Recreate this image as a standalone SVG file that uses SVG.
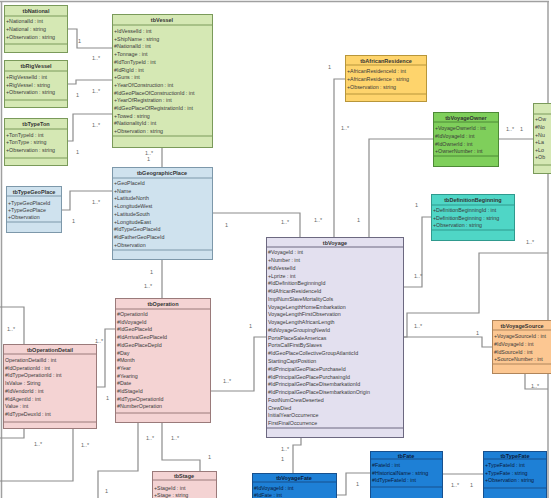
<svg xmlns="http://www.w3.org/2000/svg" width="551" height="498" viewBox="0 0 551 498">
<style>
.h{font-family:"Liberation Sans",Arial,sans-serif;font-size:5.5px;font-weight:bold;fill:#333;text-anchor:middle}
.a{font-family:"Liberation Sans",Arial,sans-serif;font-size:5.3px;fill:#3a3a3a}
.l{font-family:"Liberation Sans",Arial,sans-serif;font-size:5.5px;fill:#666}
.c{fill:none;stroke:#8c8c8c;stroke-width:1.2}
.fr{fill:none;stroke:#a0a0a0;stroke-width:1.5}
.g rect,.g line{stroke:#7a9a5a}
.g rect{fill:#d5e8b4}
.b rect,.b line{stroke:#7d98aa}
.b rect{fill:#cfe2ee}
.v rect,.v line{stroke:#6c6880}
.v rect{fill:#e3e0ef}
.p rect,.p line{stroke:#9a7a7a}
.p rect{fill:#f4d3d3}
.y rect,.y line{stroke:#b8963a}
.y rect{fill:#fed46c}
.gg rect,.gg line{stroke:#4d8a36}
.gg rect{fill:#7fcf5b}
.t rect,.t line{stroke:#2f9a8e}
.t rect{fill:#4fd6c6}
.o rect,.o line{stroke:#b0855a}
.o rect{fill:#fcc792}
.bl rect,.bl line{stroke:#17508e}
.bl rect{fill:#1e80d6}
.bl text{fill:#0a1a3a}
rect,line{stroke-width:1}
</style>
<rect width="551" height="498" fill="#ffffff"/>
<g id="frame">
<line class="fr" x1="0" y1="1.5" x2="549" y2="1.5"/>
<line class="fr" x1="1.5" y1="1" x2="1.5" y2="498"/>
<line class="fr" x1="548" y1="1" x2="548" y2="498"/>
</g>
<g id="connectors">
<polyline class="c" points="68,29 77,29 77,48 112,48"/>
<polyline class="c" points="68,84 76,84 76,80 112,80"/>
<polyline class="c" points="68,141 73,141 73,114 112,114"/>
<polyline class="c" points="162,148 162,167"/>
<polyline class="c" points="62,210 70,210 70,191 112,191"/>
<polyline class="c" points="213,213 300,213 300,237"/>
<polyline class="c" points="162,260 162,298"/>
<polyline class="c" points="97,387 105,387 105,329 115,329"/>
<polyline class="c" points="0,307 24,307 24,344"/>
<polyline class="c" points="24,429 24,438 0,438"/>
<polyline class="c" points="73,429 73,481 0,481"/>
<polyline class="c" points="211,391 254,391 254,337 266,337"/>
<polyline class="c" points="138,423 138,471 98,471 98,498"/>
<polyline class="c" points="162,423 162,460 200,460 200,471"/>
<polyline class="c" points="334,237 334,79 345,79"/>
<polyline class="c" points="369,237 369,139 433,139"/>
<polyline class="c" points="499,139 533,139"/>
<polyline class="c" points="404,287 422,287 422,217 431,217"/>
<polyline class="c" points="404,337 407,337 407,313 479,313 479,253 548,253"/>
<polyline class="c" points="404,337 482,337 482,347 492,347"/>
<polyline class="c" points="525,374 525,389 548,389"/>
<polyline class="c" points="301,438 301,445 293,445 293,473"/>
<polyline class="c" points="337,495 346,495 346,473 370,473"/>
<polyline class="c" points="443,474 483,474"/>
<text class="l" x="78" y="43">1</text>
<text class="l" x="92" y="60">1..*</text>
<text class="l" x="76" y="97">1</text>
<text class="l" x="92" y="93">1..*</text>
<text class="l" x="76" y="154">1</text>
<text class="l" x="92" y="127">1..*</text>
<text class="l" x="145" y="155">1..*</text>
<text class="l" x="147" y="161">1</text>
<text class="l" x="72" y="223">1</text>
<text class="l" x="92" y="204">1..*</text>
<text class="l" x="225" y="227">1</text>
<text class="l" x="281" y="224">1..*</text>
<text class="l" x="150" y="274">1</text>
<text class="l" x="144" y="288">1..*</text>
<text class="l" x="106" y="400">1</text>
<text class="l" x="95" y="343">1..*</text>
<text class="l" x="7" y="331">1..*</text>
<text class="l" x="34" y="446">1..*</text>
<text class="l" x="81" y="447">1..*</text>
<text class="l" x="223" y="383">1..*</text>
<text class="l" x="249" y="328">1</text>
<text class="l" x="146" y="440">1..*</text>
<text class="l" x="105" y="493">1</text>
<text class="l" x="171" y="440">1..*</text>
<text class="l" x="208" y="459">1</text>
<text class="l" x="328" y="69">1</text>
<text class="l" x="314" y="222">1..*</text>
<text class="l" x="341" y="130">1..*</text>
<text class="l" x="357" y="222">1</text>
<text class="l" x="506" y="131">1..*</text>
<text class="l" x="520" y="131">1</text>
<text class="l" x="415" y="207">1</text>
<text class="l" x="414" y="278">1..*</text>
<text class="l" x="526" y="244">1..*</text>
<text class="l" x="395" y="321">1</text>
<text class="l" x="414" y="328">1..*</text>
<text class="l" x="476" y="335">1</text>
<text class="l" x="531" y="388">1..*</text>
<text class="l" x="281" y="451">1..*</text>
<text class="l" x="281" y="461">1</text>
<text class="l" x="356" y="486">1</text>
<text class="l" x="451" y="487">1..*</text>
<text class="l" x="470" y="487">1</text>
</g>
<g id="tbNational" class="g">
<rect x="4.5" y="5.5" width="63" height="47"/>
<line x1="4.5" y1="16" x2="67.5" y2="16"/>
<line x1="4.5" y1="44" x2="67.5" y2="44"/>
<text class="h" x="36" y="13">tbNational</text>
<text class="a" x="6" y="23">+NationalId : int</text>
<text class="a" x="6" y="31">+National : string</text>
<text class="a" x="6" y="39">+Observation : string</text>
</g>
<g id="tbRigVessel" class="g">
<rect x="4.5" y="60.5" width="63" height="47"/>
<line x1="4.5" y1="71" x2="67.5" y2="71"/>
<line x1="4.5" y1="100" x2="67.5" y2="100"/>
<text class="h" x="36" y="68">tbRigVessel</text>
<text class="a" x="6" y="79">+RigVesselId : int</text>
<text class="a" x="6" y="87">+RigVessel : string</text>
<text class="a" x="6" y="94">+Observation : string</text>
</g>
<g id="tbTypeTon" class="g">
<rect x="4.5" y="118.5" width="63" height="47"/>
<line x1="4.5" y1="129" x2="67.5" y2="129"/>
<line x1="4.5" y1="158" x2="67.5" y2="158"/>
<text class="h" x="36" y="126">tbTypeTon</text>
<text class="a" x="6" y="137">+TonTypeId : int</text>
<text class="a" x="6" y="144">+TonType : string</text>
<text class="a" x="6" y="152">+Observation : string</text>
</g>
<g id="tbVessel" class="g">
<rect x="112.5" y="14.5" width="100" height="133"/>
<line x1="112.5" y1="25" x2="212.5" y2="25"/>
<line x1="112.5" y1="136" x2="212.5" y2="136"/>
<text class="h" x="162" y="22">tbVessel</text>
<text class="a" x="114" y="33">+IdVesselId : int</text>
<text class="a" x="114" y="40.7">+ShipName : string</text>
<text class="a" x="114" y="48.4">#NationalId : int</text>
<text class="a" x="114" y="56.1">+Tonnage : int</text>
<text class="a" x="114" y="63.8">#IdTonTypeId : int</text>
<text class="a" x="114" y="71.5">#IdRigId : int</text>
<text class="a" x="114" y="79.2">+Guns : int</text>
<text class="a" x="114" y="86.9">+YearOfConstruction : int</text>
<text class="a" x="114" y="94.6">#IdGeoPlaceOfConstructionId : int</text>
<text class="a" x="114" y="102.3">+YearOfRegistration : int</text>
<text class="a" x="114" y="110">#IdGeoPlaceOfRegistrationId : int</text>
<text class="a" x="114" y="117.7">+Towed : string</text>
<text class="a" x="114" y="125.4">#NationalityId : int</text>
<text class="a" x="114" y="133.1">+Observation : string</text>
</g>
<g id="tbTypeGeoPlace" class="b">
<rect x="6.5" y="186.5" width="55" height="46"/>
<line x1="6.5" y1="196" x2="61.5" y2="196"/>
<line x1="6.5" y1="222" x2="61.5" y2="222"/>
<text class="h" x="34" y="193.5">tbTypeGeoPlace</text>
<text class="a" x="8" y="205">+TypeGeoPlaceId</text>
<text class="a" x="8" y="212">+TypeGeoPlace</text>
<text class="a" x="8" y="219">+Observation</text>
</g>
<g id="tbGeographicPlace" class="b">
<rect x="112.5" y="167.5" width="100" height="92"/>
<line x1="112.5" y1="178" x2="212.5" y2="178"/>
<line x1="112.5" y1="250" x2="212.5" y2="250"/>
<text class="h" x="162" y="175">tbGeographicPlace</text>
<text class="a" x="114" y="185">+GeoPlaceId</text>
<text class="a" x="114" y="192.7">+Name</text>
<text class="a" x="114" y="200.4">+LatitudeNorth</text>
<text class="a" x="114" y="208.1">+LongitudeWest</text>
<text class="a" x="114" y="215.8">+LatitudeSouth</text>
<text class="a" x="114" y="223.5">+LongitudeEast</text>
<text class="a" x="114" y="231.2">#IdTypeGeoPlaceId</text>
<text class="a" x="114" y="238.9">#IdFatherGeoPlaceId</text>
<text class="a" x="114" y="246.6">+Observation</text>
</g>
<g id="tbOperationDetail" class="p">
<rect x="3.5" y="344.5" width="93" height="84"/>
<line x1="3.5" y1="354" x2="96.5" y2="354"/>
<line x1="3.5" y1="422" x2="96.5" y2="422"/>
<text class="h" x="50" y="351.5">tbOperationDetail</text>
<text class="a" x="5" y="362">OperationDetailId : int</text>
<text class="a" x="5" y="369.7">#IdOperationId : int</text>
<text class="a" x="5" y="377.4">#IdTypeOperationId : int</text>
<text class="a" x="5" y="385.1">IsValue : String</text>
<text class="a" x="5" y="392.8">#IdVendorId : int</text>
<text class="a" x="5" y="400.5">#IdAgentId : int</text>
<text class="a" x="5" y="408.2">Value : int</text>
<text class="a" x="5" y="415.9">#IdTypeDeuxId : int</text>
</g>
<g id="tbOperation" class="p">
<rect x="115.5" y="298.5" width="95" height="124"/>
<line x1="115.5" y1="309" x2="210.5" y2="309"/>
<line x1="115.5" y1="413" x2="210.5" y2="413"/>
<text class="h" x="163" y="306">tbOperation</text>
<text class="a" x="117" y="316">#OperationId</text>
<text class="a" x="117" y="323.7">#IdVoyageId</text>
<text class="a" x="117" y="331.4">#IdGeoPlaceId</text>
<text class="a" x="117" y="339.1">#IdArrivalGeoPlaceId</text>
<text class="a" x="117" y="346.8">#IdGeoPlaceDepId</text>
<text class="a" x="117" y="354.5">#Day</text>
<text class="a" x="117" y="362.2">#Month</text>
<text class="a" x="117" y="369.9">#Year</text>
<text class="a" x="117" y="377.6">#Yearing</text>
<text class="a" x="117" y="385.3">#Date</text>
<text class="a" x="117" y="393">#IdStageId</text>
<text class="a" x="117" y="400.7">#IdTypeOperationId</text>
<text class="a" x="117" y="408.4">#NumberOperation</text>
</g>
<g id="tbStage" class="p">
<rect x="152.5" y="471.5" width="64" height="40"/>
<line x1="152.5" y1="480" x2="216.5" y2="480"/>
<text class="h" x="184" y="478">tbStage</text>
<text class="a" x="154" y="490">+StageId : int</text>
<text class="a" x="154" y="497">+Stage : string</text>
</g>
<g id="tbVoyage" class="v">
<rect x="266.5" y="237.5" width="137" height="200"/>
<line x1="266.5" y1="247" x2="403.5" y2="247"/>
<line x1="266.5" y1="428" x2="403.5" y2="428"/>
<text class="h" x="335" y="244.5">tbVoyage</text>
<text class="a" x="268" y="254.3">#VoyageId : int</text>
<text class="a" x="268" y="262.1">+Number : int</text>
<text class="a" x="268" y="269.8">#IdVesselId</text>
<text class="a" x="268" y="277.6">+Lprize : int</text>
<text class="a" x="268" y="285.3">#IdDefinitionBeginningId</text>
<text class="a" x="268" y="293.1">#IdAfricanResidenceId</text>
<text class="a" x="268" y="300.9">ImplNumSlaveMortalityCols</text>
<text class="a" x="268" y="308.6">VoyageLengthHomeEmbarkation</text>
<text class="a" x="268" y="316.4">VoyageLengthFirstObservation</text>
<text class="a" x="268" y="324.1">VoyageLengthAfricanLength</text>
<text class="a" x="268" y="331.9">#IdVoyageGroupingNewId</text>
<text class="a" x="268" y="339.7">PortsPlaceSaleAmericas</text>
<text class="a" x="268" y="347.4">PortsCallFirstBySlaves</text>
<text class="a" x="268" y="355.2">#IdGeoPlaceCollectiveGroupAtlanticId</text>
<text class="a" x="268" y="362.9">StartingCaptPosition</text>
<text class="a" x="268" y="370.7">#IdPrincipalGeoPlacePurchaseId</text>
<text class="a" x="268" y="378.5">#IdPrincipalGeoPlacePurchasingId</text>
<text class="a" x="268" y="386.2">#IdPrincipalGeoPlaceDisembarkationId</text>
<text class="a" x="268" y="394">#IdPrincipalGeoPlaceDisembarkationOrigin</text>
<text class="a" x="268" y="401.7">FootNumCrewDeserted</text>
<text class="a" x="268" y="409.5">CrewDied</text>
<text class="a" x="268" y="417.3">InitialYearOccurrence</text>
<text class="a" x="268" y="425">FirstFinalOccurrence</text>
</g>
<g id="tbAfricanResidence" class="y">
<rect x="345.5" y="55.5" width="81" height="46"/>
<line x1="345.5" y1="65" x2="426.5" y2="65"/>
<line x1="345.5" y1="94" x2="426.5" y2="94"/>
<text class="h" x="386" y="62.5">tbAfricanResidence</text>
<text class="a" x="347" y="73">+AfricanResidenceId : int</text>
<text class="a" x="347" y="81">+AfricanResidence : string</text>
<text class="a" x="347" y="88.5">+Observation : string</text>
</g>
<g id="tbVoyageOwner" class="gg">
<rect x="433.5" y="112.5" width="65" height="54"/>
<line x1="433.5" y1="122" x2="498.5" y2="122"/>
<line x1="433.5" y1="156" x2="498.5" y2="156"/>
<text class="h" x="466" y="119.5">tbVoyageOwner</text>
<text class="a" x="435" y="130">+VoyageOwnerId : int</text>
<text class="a" x="435" y="138">#IdVoyageId : int</text>
<text class="a" x="435" y="145.5">#IdOwnerId : int</text>
<text class="a" x="435" y="153">+OwnerNumber : int</text>
</g>
<g id="tbOwner" class="g">
<rect x="533.5" y="103.5" width="30" height="70"/>
<line x1="533.5" y1="114" x2="563.5" y2="114"/>
<line x1="533.5" y1="165" x2="563.5" y2="165"/>
<text class="a" x="535" y="121">+Ow</text>
<text class="a" x="535" y="129">#No</text>
<text class="a" x="535" y="137">+Nu</text>
<text class="a" x="535" y="144">+La</text>
<text class="a" x="535" y="152">+Lo</text>
<text class="a" x="535" y="159">+Ob</text>
</g>
<g id="tbDefinitionBeginning" class="t">
<rect x="431.5" y="194.5" width="83" height="46"/>
<line x1="431.5" y1="205" x2="514.5" y2="205"/>
<line x1="431.5" y1="230" x2="514.5" y2="230"/>
<text class="h" x="473" y="202">tbDefinitionBeginning</text>
<text class="a" x="433" y="212">+DefinitionBeginningId : int</text>
<text class="a" x="433" y="219.5">+DefinitionBeginning : string</text>
<text class="a" x="433" y="227">+Observation : string</text>
</g>
<g id="tbVoyageSource" class="o">
<rect x="492.5" y="320.5" width="70" height="53"/>
<line x1="492.5" y1="330" x2="562.5" y2="330"/>
<line x1="492.5" y1="364" x2="562.5" y2="364"/>
<text class="h" x="522" y="327.5">tbVoyageSource</text>
<text class="a" x="494" y="338">+VoyageSourceId : int</text>
<text class="a" x="494" y="346">#IdVoyageId : int</text>
<text class="a" x="494" y="354">#IdSourceId : int</text>
<text class="a" x="494" y="361">+SourceNumber : int</text>
</g>
<g id="tbVoyageFate" class="bl">
<rect x="252.5" y="473.5" width="84" height="40"/>
<line x1="252.5" y1="482" x2="336.5" y2="482"/>
<text class="h" x="294" y="480">tbVoyageFate</text>
<text class="a" x="254" y="490">#IdVoyageId : int</text>
<text class="a" x="254" y="497">#IdFate : int</text>
</g>
<g id="tbFate" class="bl">
<rect x="370.5" y="451.5" width="72" height="50"/>
<line x1="370.5" y1="459" x2="442.5" y2="459"/>
<line x1="370.5" y1="487" x2="442.5" y2="487"/>
<text class="h" x="406" y="457.5">tbFate</text>
<text class="a" x="372" y="467">#FateId : int</text>
<text class="a" x="372" y="474.5">#HistoricalName : string</text>
<text class="a" x="372" y="482">#IdTypeFateId : int</text>
</g>
<g id="tbTypeFate" class="bl">
<rect x="483.5" y="451.5" width="63" height="50"/>
<line x1="483.5" y1="459" x2="546.5" y2="459"/>
<line x1="483.5" y1="488" x2="546.5" y2="488"/>
<text class="h" x="515" y="457.5">tbTypeFate</text>
<text class="a" x="485" y="467">+TypeFateId : int</text>
<text class="a" x="485" y="474.5">+TypeFate : string</text>
<text class="a" x="485" y="482">+Observation : string</text>
</g>
</svg>
